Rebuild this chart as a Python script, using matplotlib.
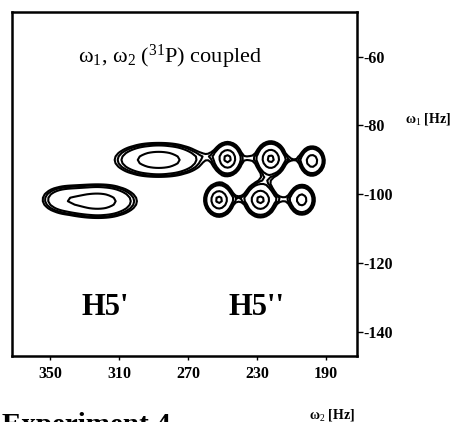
import numpy as np
import matplotlib.pyplot as plt

plt.rcParams['font.family'] = ['Liberation Serif', 'DejaVu Serif']
plt.rcParams['mathtext.fontset'] = 'custom'
plt.rcParams['mathtext.rm'] = 'Liberation Serif'
plt.rcParams['mathtext.it'] = 'Liberation Serif:italic'
plt.rcParams['axes.unicode_minus'] = False

# peak components: w2 centre, w1 centre, width w2, width w1, height
peak_w2 = [322, 343, 287, 247, 222, 198, 252, 228, 204]
peak_w1 = [-102.0, -101.5, -90.0, -89.7, -89.7, -90.3, -101.6, -101.6, -101.6]
peak_sw2 = [12, 8, 13.5, 4.3, 4.6, 4.0, 4.4, 4.8, 4.2]
peak_sw1 = [2.6, 2.4, 2.6, 2.5, 2.6, 2.3, 2.5, 2.6, 2.4]
peak_amp = [0.85, 0.35, 0.9, 1.0, 1.0, 0.8, 1.0, 1.0, 0.75]

# weak ridges joining the multiplet lines
ridge_w2 = [257, 234.5, 210, 240, 216, 225]
ridge_w1 = [-88.8, -89.5, -89.8, -101.3, -101.4, -95.7]
ridge_sw2 = [5, 3, 4, 4, 4, 3.5]
ridge_sw1 = [0.9, 1.1, 0.8, 0.9, 0.9, 1.2]
ridge_amp = [0.07, 0.13, 0.13, 0.13, 0.13, 0.08]

levels = [0.15, 0.19, 0.25, 0.6, 0.92]

w2 = np.arange(175, 372, 1.6)
w1 = np.arange(-147, -47, 1.0)
X, Y = np.meshgrid(w2, w1)
Z = np.zeros_like(X)
for a, b, sa, sb, h in zip(peak_w2 + ridge_w2, peak_w1 + ridge_w1,
                           peak_sw2 + ridge_sw2, peak_sw1 + ridge_sw1,
                           peak_amp + ridge_amp):
    Z += h * np.exp(-((X - a) ** 2) / (2 * sa ** 2) - ((Y - b) ** 2) / (2 * sb ** 2))

fig = plt.figure(figsize=(4.54, 4.22), dpi=100)
ax = fig.add_axes([0.027, 0.156, 0.759, 0.816])
ax.contour(X, Y, Z, levels=levels, colors='black', linewidths=1.5)

ax.set_xlim(372, 172)
ax.set_ylim(-147, -47)
ax.set_xticks([350, 310, 270, 230, 190])
ax.set_yticks([-60, -80, -100, -120, -140])
ax.yaxis.tick_right()
ax.tick_params(axis='x', direction='out', length=3, width=1, pad=4, labelsize=11.5)
ax.tick_params(axis='y', direction='out', length=4, width=1, pad=0.5, labelsize=11.5)
for lab in ax.get_xticklabels() + ax.get_yticklabels():
    lab.set_fontweight('bold')
for s in ax.spines.values():
    s.set_linewidth(1.8)

ax.text(280.5, -60, 'ω$_1$, ω$_2$ ($^{31}$P) coupled', ha='center', va='center', fontsize=16)
ax.text(318, -132.8, "H5'", ha='center', va='center', fontsize=22, fontweight='bold')
ax.text(230, -132.8, "H5''", ha='center', va='center', fontsize=22, fontweight='bold')

fig.text(0.892, 0.718, 'ω$_1$ [Hz]', ha='left', va='center', fontsize=10, fontweight='bold')
fig.text(0.731, 0.016, 'ω$_2$ [Hz]', ha='center', va='center', fontsize=10, fontweight='bold')
fig.text(0.004, 1 - 412 / 422, 'Experiment 4', ha='left', va='top', fontsize=21, fontweight='bold')

fig.savefig('out.png', dpi=100)
